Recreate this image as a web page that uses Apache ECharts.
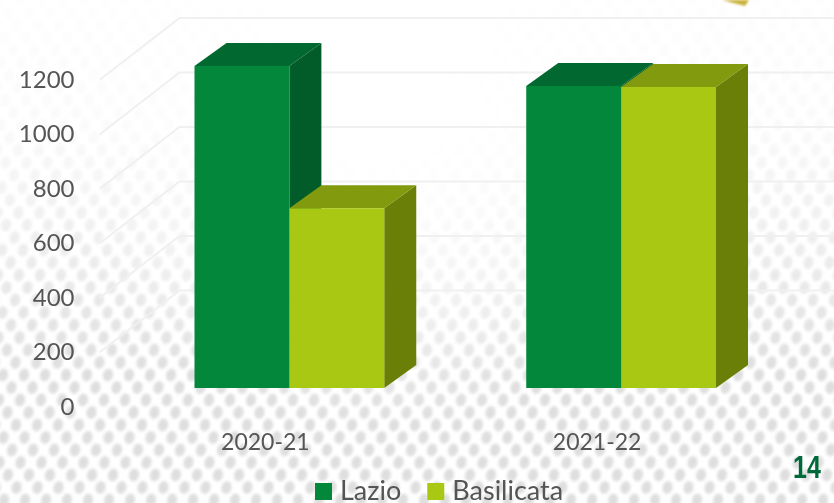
<!DOCTYPE html>
<html>
<head>
<meta charset="utf-8">
<style>
  html, body { margin: 0; padding: 0; background: #fff; }
  #chart { width: 834px; height: 503px; }
</style>
<script src="https://cdn.jsdelivr.net/npm/echarts@6/dist/echarts.min.js"></script>
</head>
<body>
<div id="chart"></div>
<script>
const categories = ['2020-21', '2021-22'];
const lazioValues = [1182, 1108];
const basilicataValues = [660, 1105];
const gridTicks = [200, 400, 600, 800, 1000, 1200];

// dotted slide background, fading out towards the top
const makeBackground = () => {
  const canvas = document.createElement('canvas');
  canvas.width = 834;
  canvas.height = 503;
  const ctx = canvas.getContext('2d');
  ctx.fillStyle = '#fff';
  ctx.fillRect(0, 0, 834, 503);
  ctx.fillStyle = '#dedede';
  ctx.filter = 'blur(1.5px)';
  for (let row = 0; row < 50; row++) {
    for (let col = 0; col < 50; col++) {
      const x = col * 21 + (row % 2) * 10.5 - (row * 2);
      const y = row * 12.5;
      ctx.beginPath();
      ctx.ellipse(x, y, 5, 6.5, 0.25, 0, Math.PI * 2);
      ctx.fill();
    }
  }
  ctx.filter = 'none';
  const fade = ctx.createLinearGradient(0, 0, 0, 503);
  fade.addColorStop(0, 'rgba(255,255,255,0.96)');
  fade.addColorStop(0.25, 'rgba(255,255,255,0.85)');
  fade.addColorStop(0.5, 'rgba(255,255,255,0.45)');
  fade.addColorStop(0.75, 'rgba(255,255,255,0)');
  fade.addColorStop(1, 'rgba(255,255,255,0)');
  ctx.fillStyle = fade;
  ctx.fillRect(0, 0, 834, 503);
  const centre = ctx.createRadialGradient(380, 90, 60, 380, 90, 340);
  centre.addColorStop(0, 'rgba(255,255,255,1)');
  centre.addColorStop(1, 'rgba(255,255,255,0)');
  ctx.fillStyle = centre;
  ctx.fillRect(0, 0, 834, 503);
  // bit of the slide ornament peeking in at the top edge
  ctx.fillStyle = '#c9b23a';
  ctx.filter = 'blur(1px)';
  ctx.beginPath();
  ctx.moveTo(722, 0);
  ctx.lineTo(749, 0);
  ctx.lineTo(745, 6);
  ctx.closePath();
  ctx.fill();
  ctx.filter = 'none';
  return canvas;
};

// fake 3D box: front face, top and right side
const renderBox = (shift, front, top, side) => (params, api) => {
  const cat = api.value(0);
  const base = api.coord([cat, 0]);
  const head = api.coord([cat, api.value(1)]);
  const w = api.size([1, 0])[0] * 0.286;
  const left = base[0] + 24 + shift * w;
  const right = left + w;
  const y0 = base[1] - 19;
  const y1 = head[1] - 19;
  const dx = 32;
  const dy = -23;
  const poly = (points, fill) => ({
    type: 'polygon',
    shape: { points },
    style: { fill }
  });
  return {
    type: 'group',
    children: [
      poly([[right, y1], [right + dx, y1 + dy], [right + dx, y0 + dy], [right, y0]], side),
      poly([[left, y1], [left + dx, y1 + dy], [right + dx, y1 + dy], [right, y1]], top),
      poly([[left, y1], [right, y1], [right, y0], [left, y0]], front)
    ]
  };
};

// back wall and side wall gridlines
const renderWall = (params, api) => {
  const y = api.coord([0, api.value(0)])[1];
  const x = params.coordSys.x;
  return {
    type: 'polyline',
    shape: { points: [[x, y], [x + 80, y - 62], [834, y - 62]] },
    style: { stroke: '#f0f0f0', lineWidth: 2, fill: null }
  };
};

const chart = echarts.init(document.getElementById('chart'));
chart.setOption({
  animation: false,
  graphic: [
    {
      type: 'image',
      z: -10,
      silent: true,
      style: { image: makeBackground(), x: 0, y: 0, width: 834, height: 503 }
    },
    {
      type: 'text',
      x: 793,
      y: 453,
      scaleX: 0.78,
      style: {
        text: '14',
        fill: '#00693a',
        font: 'bold 32px "Liberation Sans", sans-serif'
      }
    }
  ],
  legend: {
    data: ['Lazio', 'Basilicata'],
    left: 315,
    top: 478,
    padding: 0,
    itemWidth: 17,
    itemHeight: 17,
    itemGap: 26,
    icon: 'rect',
    textStyle: {
      color: '#555',
      fontSize: 27,
      fontFamily: 'Lato',
      padding: [0, 0, 0, 3]
    }
  },
  grid: {
    left: 99.5,
    right: 71,
    top: 80,
    bottom: 96,
    containLabel: false
  },
  xAxis: {
    type: 'category',
    data: categories,
    axisLine: { show: false },
    axisTick: { show: false },
    axisLabel: {
      color: '#555',
      fontSize: 23,
      fontFamily: 'Lato',
      margin: 24
    }
  },
  yAxis: {
    type: 'value',
    min: 0,
    max: 1200,
    interval: 200,
    axisLine: { show: false },
    axisTick: { show: false },
    splitLine: { show: false },
    axisLabel: {
      color: '#555',
      fontSize: 24,
      fontFamily: 'Lato',
      margin: 25,
      padding: [8, 0, 0, 0],
      formatter: v => String(v)
    }
  },
  series: [
    {
      name: 'walls',
      type: 'custom',
      clip: false,
      silent: true,
      renderItem: renderWall,
      data: gridTicks.map(v => [v]),
      encode: { y: 0 }
    },
    {
      name: 'Lazio',
      type: 'custom',
      clip: false,
      itemStyle: { color: '#02873b' },
      renderItem: renderBox(-1, '#02873b', '#01692f', '#015c29'),
      data: lazioValues.map((v, i) => [i, v]),
      encode: { x: 0, y: 1 }
    },
    {
      name: 'Basilicata',
      type: 'custom',
      clip: false,
      itemStyle: { color: '#a8c813' },
      renderItem: renderBox(0, '#a8c813', '#819a0e', '#6a7f08'),
      data: basilicataValues.map((v, i) => [i, v]),
      encode: { x: 0, y: 1 }
    }
  ]
});
</script>
</body>
</html>
